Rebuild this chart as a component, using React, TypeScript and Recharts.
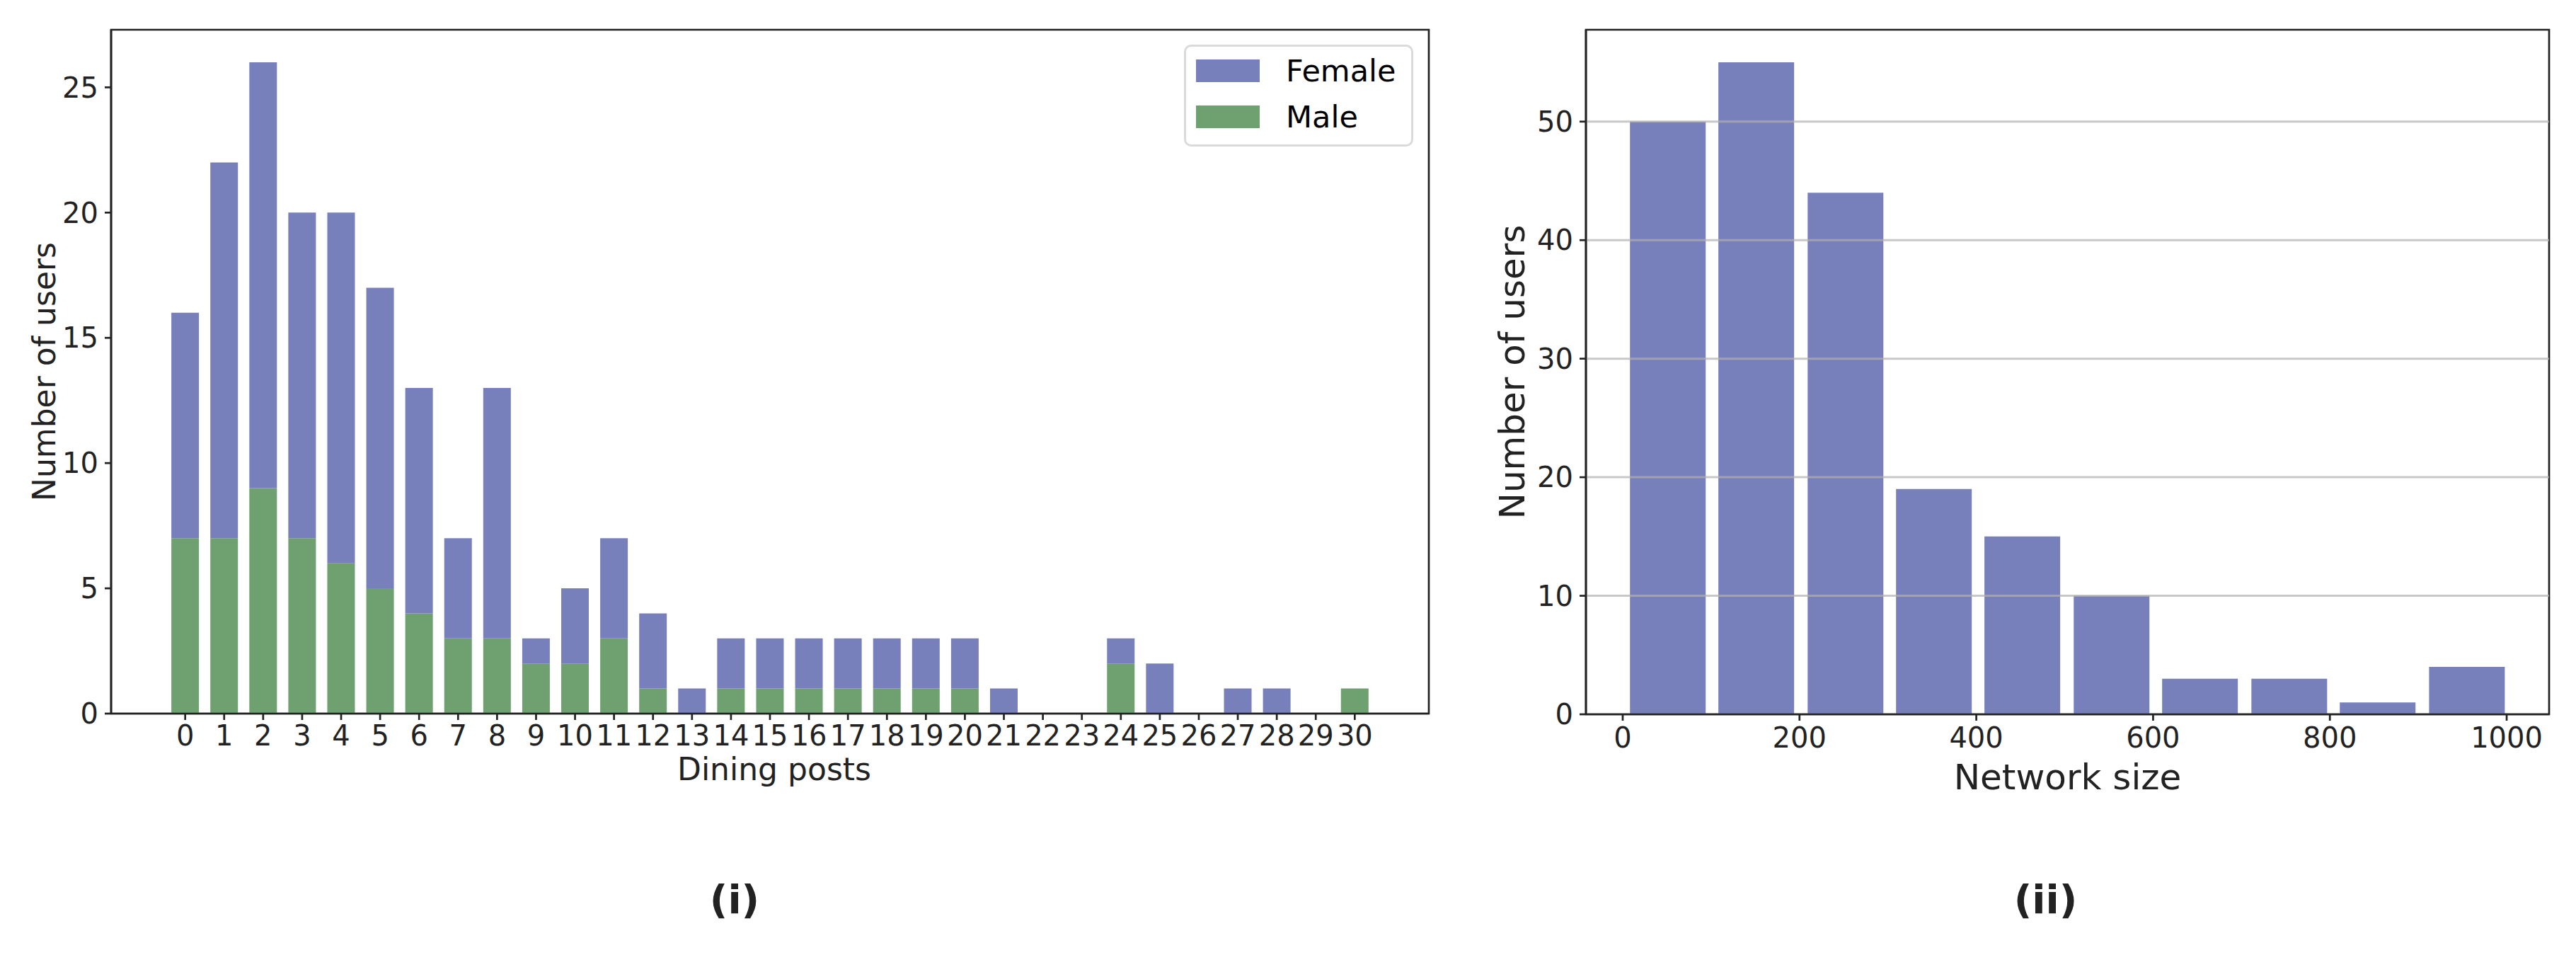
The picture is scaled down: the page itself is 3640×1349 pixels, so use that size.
import React from "react";
import {
  BarChart, Bar, XAxis, YAxis, Legend, Label, ReferenceArea, ReferenceLine,
} from "recharts";

// (i) Dining posts per user, split by gender
const diningPosts = [
  0, 1, 2, 3, 4, 5, 6, 7, 8, 9, 10, 11, 12, 13, 14, 15,
  16, 17, 18, 19, 20, 21, 22, 23, 24, 25, 26, 27, 28, 29, 30,
];
const maleUsers = [
  7, 7, 9, 7, 6, 5, 4, 3, 3, 2, 2, 3, 1, 0, 1, 1,
  1, 1, 1, 1, 1, 0, 0, 0, 2, 0, 0, 0, 0, 0, 1,
];
// female part stacked on top of the male part
const femaleUsers = [
  9, 15, 17, 13, 14, 12, 9, 4, 10, 1, 3, 4, 3, 1, 2, 2,
  2, 2, 2, 2, 2, 1, 0, 0, 1, 2, 0, 1, 1, 0, 0,
];
const diningYTicks = [0, 5, 10, 15, 20, 25];
const seriesOrder = ["Female", "Male"];

// (ii) Network size histogram
const networkBinCenters = [51, 151, 252, 352, 452, 553, 653, 754, 854, 955];
const networkUsers = [50, 55, 44, 19, 15, 10, 3, 3, 1, 4];
const networkXTicks = [0, 200, 400, 600, 800, 1000];
const networkYTicks = [0, 10, 20, 30, 40, 50];

const FEMALE = "#7880bc";
const MALE = "#6fa070";
const INK = "#222222";
const FONT = "DejaVu Sans";

const diningData = diningPosts.map((p, i) => ({ post: p, male: maleUsers[i], female: femaleUsers[i] }));
const networkData = networkBinCenters.map((c, i) => ({ center: c, users: networkUsers[i] }));

const tickStyle = { fontSize: 40, fill: INK, fontFamily: FONT };

function GenderLegend(props: any) {
  const items = [...(props.payload || [])].sort(
    (a: any, b: any) => seriesOrder.indexOf(a.value) - seriesOrder.indexOf(b.value)
  );
  return (
    <div
      style={{
        boxSizing: "border-box", width: 324, height: 144, border: "3px solid #dadada",
        borderRadius: 10, background: "#fff", padding: "18px 0 0 14px", fontFamily: FONT,
      }}
    >
      {items.map((it: any) => (
        <div key={it.value} style={{ display: "flex", alignItems: "center", height: 32, marginBottom: 33 }}>
          <div style={{ width: 90, height: 32, background: it.color, marginRight: 37 }} />
          <span style={{ fontSize: 43, color: "#000", lineHeight: "32px" }}>{it.value}</span>
        </div>
      ))}
    </div>
  );
}

export default function App() {
  return (
    <div style={{ position: "absolute", left: 0, top: 0, width: 3640, height: 1349, background: "#fff" }}>
      <div style={{ position: "absolute", left: 0, top: 0 }}>
        <BarChart
          width={2060}
          height={1349}
          data={diningData}
          margin={{ top: 42, right: 41, left: 0, bottom: 231 }}
        >
          <XAxis
            type="number"
            dataKey="post"
            domain={[-1.9, 31.9]}
            ticks={diningPosts}
            interval={0}
            allowDataOverflow
            height={110}
            tickSize={9}
            tickMargin={8}
            tick={tickStyle}
            axisLine={{ stroke: INK, strokeWidth: 2.7 }}
            tickLine={{ stroke: INK, strokeWidth: 2.7 }}
          >
            <Label value="Dining posts" position="insideTop" offset={63} dx={6}
              style={{ fontSize: 44, fill: INK, fontFamily: FONT }} />
            <Label value="(i)" position="insideTop" offset={242} dx={-50}
              style={{ fontSize: 56, fill: INK, fontFamily: FONT, fontWeight: "bold" }} />
          </XAxis>
          <YAxis
            domain={[0, 27.3]}
            ticks={diningYTicks}
            allowDataOverflow
            width={157}
            tickSize={9}
            tickMargin={9}
            tick={tickStyle}
            axisLine={{ stroke: INK, strokeWidth: 2.7 }}
            tickLine={{ stroke: INK, strokeWidth: 2.7 }}
          >
            <Label value="Number of users" angle={-90} position="insideLeft" offset={62}
              style={{ fontSize: 44, fill: INK, fontFamily: FONT, textAnchor: "middle" }} />
          </YAxis>
          <Legend
            layout="vertical"
            align="center"
            verticalAlign="middle"
            content={GenderLegend}
            wrapperStyle={{ left: 1673, top: 63, width: 324, height: 144 }}
          />
          <Bar dataKey="male" name="Male" stackId="g" fill={MALE} barSize={39} isAnimationActive={false} />
          <Bar dataKey="female" name="Female" stackId="g" fill={FEMALE} barSize={39} isAnimationActive={false} />
          <ReferenceArea y1={0} y2={27.3} fill="none" stroke={INK} strokeWidth={2.7} ifOverflow="visible" />
        </BarChart>
      </div>

      <div style={{ position: "absolute", left: 2060, top: 0 }}>
        <BarChart
          width={1580}
          height={1349}
          data={networkData}
          margin={{ top: 42, right: 38, left: 0, bottom: 230 }}
        >
          <XAxis
            type="number"
            dataKey="center"
            domain={[-41.6, 1048]}
            ticks={networkXTicks}
            interval={0}
            allowDataOverflow
            height={110}
            tickSize={9}
            tickMargin={10}
            tick={tickStyle}
            axisLine={{ stroke: INK, strokeWidth: 2.7 }}
            tickLine={{ stroke: INK, strokeWidth: 2.7 }}
          >
            <Label value="Network size" position="insideTop" offset={70}
              style={{ fontSize: 50, fill: INK, fontFamily: FONT }} />
            <Label value="(ii)" position="insideTop" offset={241} dx={-31}
              style={{ fontSize: 56, fill: INK, fontFamily: FONT, fontWeight: "bold" }} />
          </XAxis>
          <YAxis
            domain={[0, 57.75]}
            ticks={networkYTicks}
            allowDataOverflow
            width={181}
            tickSize={9}
            tickMargin={9}
            tick={tickStyle}
            axisLine={{ stroke: INK, strokeWidth: 2.7 }}
            tickLine={{ stroke: INK, strokeWidth: 2.7 }}
          >
            <Label value="Number of users" angle={-90} position="insideLeft" offset={76}
              style={{ fontSize: 50, fill: INK, fontFamily: FONT, textAnchor: "middle" }} />
          </YAxis>
          <Bar dataKey="users" name="Users" fill={FEMALE} barSize={107} isAnimationActive={false} />
          {networkYTicks.filter((t) => t > 0).map((t) => (
            <ReferenceLine key={t} y={t} stroke="#b0b0b0" strokeOpacity={0.7} strokeWidth={3} />
          ))}
          <ReferenceArea y1={0} y2={57.75} fill="none" stroke={INK} strokeWidth={2.7} ifOverflow="visible" />
        </BarChart>
      </div>
    </div>
  );
}
